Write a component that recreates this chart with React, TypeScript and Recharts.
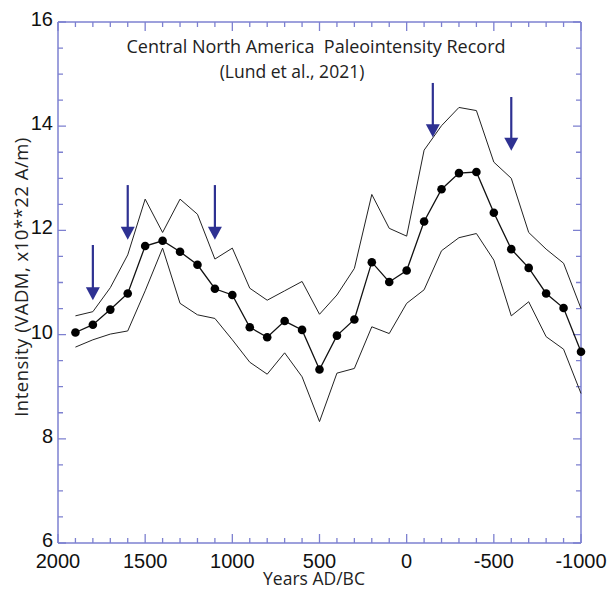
import React from "react";
import { LineChart, Line, XAxis, YAxis, ReferenceLine } from "recharts";

const YEARS = [
  1900, 1800, 1700, 1600, 1500, 1400, 1300, 1200, 1100, 1000, 900, 800, 700, 600, 500,
  400, 300, 200, 100, 0, -100, -200, -300, -400, -500, -600, -700, -800, -900, -1000,
];
const MEAN = [
  10.04, 10.19, 10.48, 10.79, 11.7, 11.8, 11.59, 11.34, 10.88, 10.76, 10.14, 9.95, 10.26, 10.09, 9.33,
  9.98, 10.29, 11.39, 11.01, 11.23, 12.17, 12.79, 13.1, 13.12, 12.34, 11.64, 11.28, 10.79, 10.51, 9.67,
];
const UPPER = [
  10.36, 10.44, 10.9, 11.53, 12.6, 11.96, 12.6, 12.31, 11.45, 11.66, 10.89, 10.66, 10.84, 11.02, 10.39,
  10.76, 11.27, 12.69, 12.04, 11.89, 13.54, 14.01, 14.36, 14.3, 13.31, 13.0, 11.96, 11.64, 11.37, 10.5,
];
const LOWER = [
  9.76, 9.9, 10.01, 10.07, 10.84, 11.66, 10.6, 10.38, 10.31, 9.9, 9.47, 9.24, 9.65, 9.19, 8.33,
  9.26, 9.35, 10.15, 10.02, 10.6, 10.86, 11.61, 11.86, 11.94, 11.43, 10.36, 10.63, 9.96, 9.72, 8.87,
];

// arrows marking field spikes
const ARROW_YEARS = [1800, 1600, 1100, -150, -600];
const ARROW_TOP = [11.72, 12.87, 12.87, 14.83, 14.56];
const ARROW_TIP = [10.66, 11.82, 11.82, 13.79, 13.53];

const X_TICKS = Array.from({ length: 31 }, (_, i) => 2000 - i * 100);
const Y_TICKS = Array.from({ length: 21 }, (_, i) => 6 + i * 0.5);
const X_LABELS = [2000, 1500, 1000, 500, 0, -500, -1000];
const Y_LABELS = [6, 8, 10, 12, 14, 16];

const data = YEARS.map((year, i) => ({
  year,
  mean: MEAN[i],
  upper: UPPER[i],
  lower: LOWER[i],
}));

const AXIS = "#7d80d0";
const ARROW = "#2e3192";
const NUM_FONT = "'Liberation Sans', Arial, sans-serif";
const TXT_FONT = "'Open Sans', sans-serif";

const bottomLabel = (props: any) => {
  const { x, y, payload } = props;
  return (
    <text x={x} y={y + 25} textAnchor="middle" fontSize={20} fontFamily={NUM_FONT} fill="#111">
      {payload.value}
    </text>
  );
};

const leftLabel = (props: any) => {
  const { x, y, payload } = props;
  return (
    <text x={x - 5} y={y + 4} textAnchor="end" fontSize={20} fontFamily={NUM_FONT} fill="#111">
      {payload.value}
    </text>
  );
};

// inward tick marks at both ends of a vertical reference line
const xTickShape = (major: boolean) => (props: any) => {
  const { x1, y1, y2 } = props;
  const top = Math.min(y1, y2);
  const bot = Math.max(y1, y2);
  const len = major ? 9 : 5;
  return (
    <path
      d={`M${x1},${top}V${top + len}M${x1},${bot}V${bot - len}`}
      stroke={AXIS}
      strokeWidth={1.3}
      fill="none"
    />
  );
};

// inward tick marks at both ends of a horizontal reference line
const yTickShape = (major: boolean) => (props: any) => {
  const { x1, x2, y1 } = props;
  const left = Math.min(x1, x2);
  const right = Math.max(x1, x2);
  const len = major ? 8 : 5;
  return (
    <path
      d={`M${left},${y1}H${left + len}M${right},${y1}H${right - len}`}
      stroke={AXIS}
      strokeWidth={1.3}
      fill="none"
    />
  );
};

const Arrow = (props: any) => {
  const { x1, y1, x2, y2 } = props;
  return (
    <g>
      <line x1={x1} x2={x2} y1={y1} y2={y2 - 10} stroke={ARROW} strokeWidth={2.2} />
      <polygon points={`${x2 - 7},${y2 - 13} ${x2 + 7},${y2 - 13} ${x2},${y2}`} fill={ARROW} />
    </g>
  );
};

export default function App() {
  return (
    <div style={{ position: "absolute", left: 0, top: 0, width: 608, height: 590, background: "#fff" }}>
      <LineChart width={608} height={590} data={data} margin={{ top: 22, right: 27, bottom: 0, left: 0 }}>
        <XAxis
          dataKey="year"
          type="number"
          domain={[-1000, 2000]}
          reversed
          ticks={X_LABELS}
          interval={0}
          height={47}
          tickSize={0}
          tickMargin={0}
          tickLine={false}
          tick={bottomLabel}
          axisLine={{ stroke: AXIS, strokeWidth: 1.5 }}
        />
        <YAxis
          type="number"
          domain={[6, 16]}
          ticks={Y_LABELS}
          interval={0}
          width={58}
          tickSize={0}
          tickMargin={0}
          tickLine={false}
          tick={leftLabel}
          axisLine={{ stroke: AXIS, strokeWidth: 1.5 }}
        />
        {X_TICKS.map((t) => (
          <ReferenceLine key={`xt${t}`} x={t} shape={xTickShape(t % 500 === 0)} />
        ))}
        {Y_TICKS.map((t) => (
          <ReferenceLine key={`yt${t}`} y={t} shape={yTickShape(t % 2 === 0)} />
        ))}
        <ReferenceLine y={16} stroke={AXIS} strokeWidth={1.5} />
        <ReferenceLine x={-1000} stroke={AXIS} strokeWidth={1.5} />
        <Line dataKey="upper" stroke="#222" strokeWidth={1} dot={false} isAnimationActive={false} />
        <Line dataKey="lower" stroke="#222" strokeWidth={1} dot={false} isAnimationActive={false} />
        <Line
          dataKey="mean"
          stroke="#111"
          strokeWidth={1.3}
          dot={{ r: 4.3, fill: "#000", stroke: "none" }}
          isAnimationActive={false}
        />
        {ARROW_YEARS.map((yr, i) => (
          <ReferenceLine
            key={yr}
            segment={[
              { x: yr, y: ARROW_TOP[i] },
              { x: yr, y: ARROW_TIP[i] },
            ]}
            shape={<Arrow />}
          />
        ))}
      </LineChart>
      <div style={{ position: "absolute", left: 0, width: 632, top: 34, textAlign: "center", fontFamily: TXT_FONT, fontSize: 18, color: "#222", whiteSpace: "pre" }}>
        {"Central North America  Paleointensity Record"}
      </div>
      <div style={{ position: "absolute", left: 0, width: 584, top: 59, textAlign: "center", fontFamily: TXT_FONT, fontSize: 17.5, color: "#222" }}>
        (Lund et al., 2021)
      </div>
      <div style={{ position: "absolute", left: 0, width: 628, top: 571, lineHeight: "14px", textAlign: "center", fontFamily: TXT_FONT, fontSize: 17.5, color: "#222" }}>
        Years AD/BC
      </div>
      <div
        style={{
          position: "absolute",
          left: 20,
          top: 277,
          transform: "translate(-50%, -50%) rotate(-90deg)",
          fontFamily: TXT_FONT,
          fontSize: 18.5,
          letterSpacing: 0.5,
          color: "#222",
          whiteSpace: "nowrap",
        }}
      >
        Intensity (VADM, x10**22 A/m)
      </div>
    </div>
  );
}
